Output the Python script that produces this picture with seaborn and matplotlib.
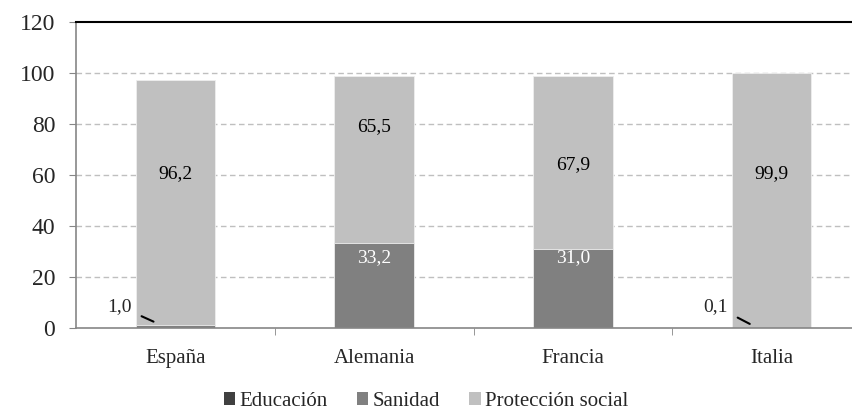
import numpy as np
import pandas as pd
import matplotlib
matplotlib.use('Agg')
import matplotlib.pyplot as plt
import seaborn as sns
from matplotlib.patches import Patch

# datos
paises = ['España', 'Alemania', 'Francia', 'Italia']
educacion = [0.0, 0.0, 0.0, 0.0]
sanidad = [1.0, 33.2, 31.0, 0.1]
proteccion = [96.2, 65.5, 67.9, 99.9]
series = ['Educación', 'Sanidad', 'Protección social']
colores = ['#404040', '#808080', '#c0c0c0']

# etiquetas (posición vertical)
etq_san_y = [None, 27.5, 27.5, None]
etq_pro_y = [60.5, 79.0, 64.0, 60.5]

sns.set_style('white')
plt.rcParams['font.family'] = ['Liberation Serif', 'DejaVu Serif']

df = pd.DataFrame({'pais': paises, 'edu': educacion, 'san': sanidad, 'pro': proteccion})
df['c1'] = df['edu']
df['c2'] = df['c1'] + df['san']
df['c3'] = df['c2'] + df['pro']

fig = plt.figure(figsize=(8.52, 4.15), dpi=100)
ax = fig.add_axes([76 / 852, 87 / 415, 795 / 852, 306 / 415])

# barras apiladas: acumulados de mayor a menor
for col, c in zip(['c3', 'c2', 'c1'], colores[::-1]):
    sns.barplot(data=df, x='pais', y=col, color=c, width=0.4, ax=ax,
                edgecolor='#eeeeee', linewidth=0.6, saturation=1)

ax.set_xlim(-0.5, 3.5)
ax.set_ylim(0, 120)
ax.set_yticks(np.arange(0, 121, 20))
ax.set_xlabel('')
ax.set_ylabel('')
ax.set_axisbelow(True)
for y in range(20, 101, 20):
    ax.axhline(y, color='#bfbfbf', linestyle=(0, (4, 2.5)), linewidth=1, zorder=0)

for s in ['left', 'bottom']:
    ax.spines[s].set_color('#868686')
    ax.spines[s].set_linewidth(1.2)
ax.spines['top'].set_color('black')
ax.spines['top'].set_linewidth(1.5)
ax.spines['right'].set_visible(False)

ax.tick_params(axis='y', direction='out', length=5, color='#868686', labelsize=17, pad=10, left=True)
ax.tick_params(axis='x', which='major', length=0, labelsize=15, pad=15)
ax.set_xticks([0.5, 1.5, 2.5], minor=True)
ax.tick_params(axis='x', which='minor', direction='out', length=5, color='#868686', bottom=True)

# etiquetas de datos
for i in range(len(paises)):
    ax.text(i, etq_pro_y[i], f'{proteccion[i]:.1f}'.replace('.', ','),
            ha='center', va='center', fontsize=14, color='black')
    if etq_san_y[i] is not None:
        ax.text(i, etq_san_y[i], f'{sanidad[i]:.1f}'.replace('.', ','),
                ha='center', va='center', fontsize=14, color='white')
    else:
        txt = f'{sanidad[i]:.1f}'.replace('.', ',')
        ax.annotate(txt, xy=(i - 0.11, df['c2'][i] + 1.5), xytext=(i - 0.28, 8.5),
                    ha='center', va='center', fontsize=14,
                    arrowprops=dict(arrowstyle='-', color='black', lw=1.5,
                                    shrinkA=5, shrinkB=0))

handles = [Patch(facecolor=c, edgecolor='none') for c in colores]
fig.legend(handles, series, loc='lower center', bbox_to_anchor=(0.5, -0.035), ncol=3,
           frameon=False, fontsize=15, handlelength=0.55, handleheight=0.55,
           handletextpad=0.2, columnspacing=1.4)

fig.savefig('out.png', dpi=100)
